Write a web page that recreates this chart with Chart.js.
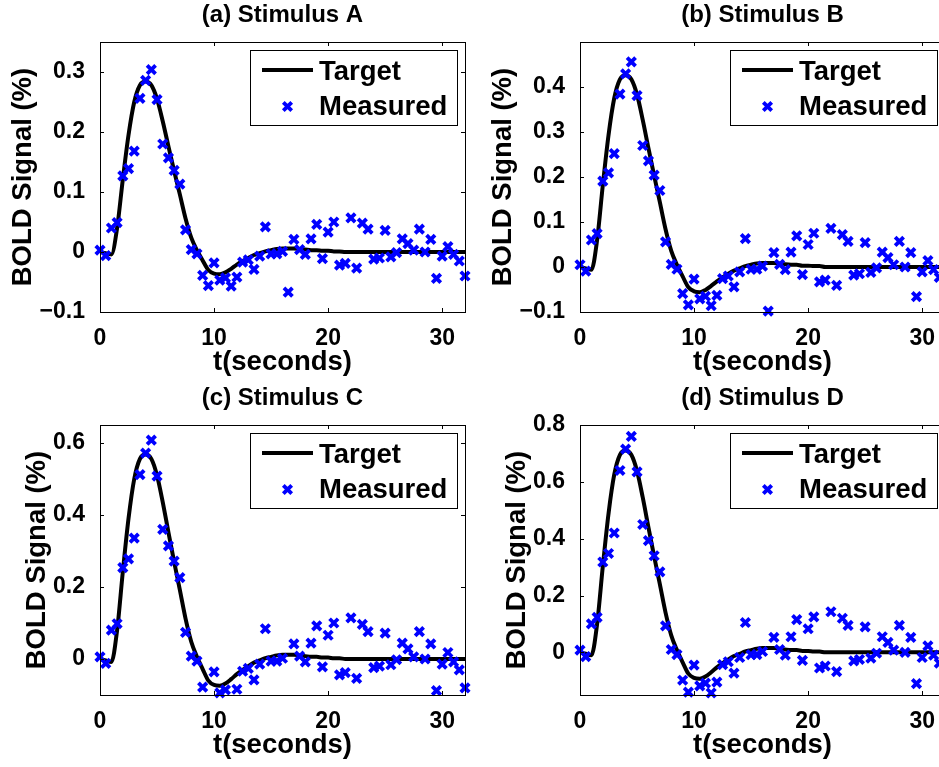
<!DOCTYPE html>
<html>
<head>
<meta charset="utf-8">
<script src="https://cdn.jsdelivr.net/npm/chart.js@4.4.1/dist/chart.umd.min.js"></script>
<style>
  html, body { margin: 0; padding: 0; background: #fff; }
  #wrap { position: relative; width: 939px; height: 767px; overflow: hidden; background: #fff; }
  canvas { position: absolute; }
</style>
</head>
<body>
<div id="wrap">
  <canvas id="chartA" width="480" height="383" style="left:0;top:0"></canvas>
  <canvas id="chartB" width="480" height="383" style="left:480px;top:0"></canvas>
  <canvas id="chartC" width="480" height="383" style="left:0;top:383px"></canvas>
  <canvas id="chartD" width="480" height="383" style="left:480px;top:383px"></canvas>
</div>
<script>
// time axis (seconds), sampled every 0.5 s
const time = [0, 0.5, 1, 1.5, 2, 2.5, 3, 3.5, 4, 4.5, 5, 5.5, 6, 6.5, 7, 7.5, 8, 8.5, 9, 9.5,
  10, 10.5, 11, 11.5, 12, 12.5, 13, 13.5, 14, 14.5, 15, 15.5, 16, 16.5, 17, 17.5, 18, 18.5, 19, 19.5,
  20, 20.5, 21, 21.5, 22, 22.5, 23, 23.5, 24, 24.5, 25, 25.5, 26, 26.5, 27, 27.5, 28, 28.5, 29, 29.5,
  30, 30.5, 31, 31.5, 32];

// target response curves
const targetA = [0, -0.002, -0.004, 0.040, 0.121, 0.195, 0.250, 0.278, 0.284, 0.278, 0.255, 0.218, 0.176, 0.135, 0.096, 0.056, 0.024, 0.003, -0.014, -0.030,
  -0.036, -0.037, -0.034, -0.028, -0.021, -0.015, -0.010, -0.005, -0.002, 0.001, 0.003, 0.005, 0.006, 0.006, 0.006, 0.005, 0.004, 0.003, 0.003, 0.002,
  0.002, 0.001, 0.001, 0, 0, 0, 0, 0, 0, 0, 0, 0, 0, 0, 0, 0, 0, 0, 0, 0, 0, 0, 0, 0, 0];
const targetB = [0, -0.003, -0.006, 0.060, 0.182, 0.293, 0.375, 0.417, 0.426, 0.417, 0.383, 0.327, 0.264, 0.203, 0.144, 0.084, 0.036, 0.005, -0.021, -0.045,
  -0.054, -0.056, -0.051, -0.042, -0.032, -0.023, -0.015, -0.008, -0.003, 0.002, 0.005, 0.008, 0.009, 0.009, 0.009, 0.008, 0.006, 0.005, 0.005, 0.003,
  0.003, 0.002, 0.002, 0, 0, 0, 0, 0, 0, 0, 0, 0, 0, 0, 0, 0, 0, 0, 0, 0, 0, 0, 0, 0, 0];
const targetC = [0, -0.004, -0.008, 0.080, 0.242, 0.390, 0.500, 0.556, 0.568, 0.556, 0.510, 0.436, 0.352, 0.270, 0.192, 0.112, 0.048, 0.006, -0.028, -0.060,
  -0.072, -0.074, -0.068, -0.056, -0.042, -0.030, -0.020, -0.010, -0.004, 0.002, 0.006, 0.010, 0.012, 0.012, 0.012, 0.010, 0.008, 0.006, 0.006, 0.004,
  0.004, 0.002, 0.002, 0, 0, 0, 0, 0, 0, 0, 0, 0, 0, 0, 0, 0, 0, 0, 0, 0, 0, 0, 0, 0, 0];
const targetD = [0, -0.005, -0.010, 0.100, 0.303, 0.488, 0.625, 0.695, 0.710, 0.695, 0.638, 0.545, 0.440, 0.338, 0.240, 0.140, 0.060, 0.008, -0.035, -0.075,
  -0.090, -0.093, -0.085, -0.070, -0.053, -0.038, -0.025, -0.013, -0.005, 0.003, 0.008, 0.013, 0.015, 0.015, 0.015, 0.013, 0.010, 0.008, 0.008, 0.005,
  0.005, 0.003, 0.003, 0, 0, 0, 0, 0, 0, 0, 0, 0, 0, 0, 0, 0, 0, 0, 0, 0, 0, 0, 0, 0, 0];

// measured samples
const measuredA = [0.003, -0.006, 0.040, 0.049, 0.127, 0.139, 0.168, 0.256, 0.286, 0.304, 0.254, 0.180, 0.157, 0.136, 0.113, 0.037, 0.004, -0.003, -0.039, -0.056,
  -0.018, -0.047, -0.043, -0.057, -0.042, -0.017, -0.013, -0.029, -0.007, 0.042, -0.003, -0.003, 0.001, -0.067, 0.021, 0.004, -0.004, 0.022, 0.046, -0.011,
  0.033, 0.050, -0.022, -0.019, 0.057, -0.027, 0.048, 0.038, -0.012, -0.010, 0.036, -0.008, -0.001, 0.022, 0.014, 0.003, 0.038, 0.000, 0.021, -0.044,
  -0.007, 0.009, -0.004, -0.015, -0.040];
const measuredB = [0.005, -0.009, 0.060, 0.074, 0.191, 0.209, 0.252, 0.384, 0.429, 0.456, 0.381, 0.270, 0.236, 0.204, 0.170, 0.056, 0.006, -0.005, -0.059, -0.084,
  -0.027, -0.071, -0.065, -0.086, -0.063, -0.026, -0.020, -0.044, -0.011, 0.063, -0.005, -0.005, 0.002, -0.098, 0.032, 0.006, -0.006, 0.033, 0.069, -0.017,
  0.050, 0.075, -0.033, -0.029, 0.086, -0.041, 0.072, 0.057, -0.018, -0.015, 0.054, -0.012, -0.002, 0.033, 0.021, 0.005, 0.057, 0.000, 0.032, -0.066,
  -0.011, 0.014, -0.006, -0.023, -0.060];
const measuredC = [0.006, -0.012, 0.080, 0.098, 0.254, 0.278, 0.336, 0.512, 0.572, 0.608, 0.508, 0.360, 0.314, 0.272, 0.226, 0.074, 0.008, -0.006, -0.078, -0.112,
  -0.036, -0.094, -0.086, -0.114, -0.084, -0.034, -0.026, -0.058, -0.014, 0.084, -0.006, -0.006, 0.002, -0.134, 0.042, 0.008, -0.008, 0.044, 0.092, -0.022,
  0.066, 0.100, -0.044, -0.038, 0.114, -0.054, 0.096, 0.076, -0.024, -0.020, 0.072, -0.016, -0.002, 0.044, 0.028, 0.006, 0.076, 0.000, 0.042, -0.088,
  -0.014, 0.018, -0.008, -0.030, -0.080];
const measuredD = [0.008, -0.015, 0.100, 0.123, 0.318, 0.348, 0.420, 0.640, 0.715, 0.760, 0.635, 0.450, 0.393, 0.340, 0.283, 0.093, 0.010, -0.008, -0.098, -0.140,
  -0.045, -0.118, -0.108, -0.143, -0.105, -0.043, -0.033, -0.073, -0.018, 0.105, -0.008, -0.008, 0.003, -0.168, 0.053, 0.010, -0.010, 0.055, 0.115, -0.028,
  0.083, 0.125, -0.055, -0.048, 0.143, -0.068, 0.120, 0.095, -0.030, -0.025, 0.090, -0.020, -0.003, 0.055, 0.035, 0.008, 0.095, 0.000, 0.053, -0.110,
  -0.018, 0.023, -0.010, -0.038, -0.100];

// tick labels
const xTicks = [0, 10, 20, 30];
const yTicksA = [-0.1, 0, 0.1, 0.2, 0.3];
const yTicksB = [-0.1, 0, 0.1, 0.2, 0.3, 0.4];
const yTicksC = [0, 0.2, 0.4, 0.6];
const yTicksD = [0, 0.2, 0.4, 0.6, 0.8];

const FONT = '"Liberation Sans", Arial, Helvetica, sans-serif';
Chart.defaults.font.family = FONT;
Chart.defaults.color = '#000';

// box around the plot with inward ticks on all four sides, like matlab
const axesBox = {
  id: 'axesBox',
  afterDatasetsDraw(chart) {
    const { ctx, chartArea: a, scales: { x, y } } = chart;
    ctx.save();
    ctx.strokeStyle = '#000';
    ctx.lineWidth = 1;
    ctx.strokeRect(a.left + 0.5, a.top + 0.5, a.width, a.height);
    ctx.beginPath();
    x.ticks.forEach((t) => {
      const px = Math.round(x.getPixelForValue(t.value)) + 0.5;
      ctx.moveTo(px, a.bottom); ctx.lineTo(px, a.bottom - 4);
      ctx.moveTo(px, a.top); ctx.lineTo(px, a.top + 4);
    });
    y.ticks.forEach((t) => {
      const py = Math.round(y.getPixelForValue(t.value)) + 0.5;
      ctx.moveTo(a.left, py); ctx.lineTo(a.left + 4, py);
      ctx.moveTo(a.right, py); ctx.lineTo(a.right - 4, py);
    });
    ctx.stroke();
    ctx.restore();
  }
};

// legend box in the upper right corner of the plot
const legendBox = {
  id: 'legendBox',
  afterDraw(chart) {
    const { ctx, chartArea: a } = chart;
    const ds = chart.data.datasets;
    const x0 = a.right - 215, y0 = a.top + 8;
    ctx.save();
    ctx.fillStyle = '#fff';
    ctx.fillRect(x0, y0, 207, 75);
    ctx.strokeStyle = '#000';
    ctx.lineWidth = 1;
    ctx.strokeRect(x0 + 0.5, y0 + 0.5, 207, 75);
    // line sample
    ctx.lineWidth = 4;
    ctx.beginPath();
    ctx.moveTo(x0 + 12, y0 + 20);
    ctx.lineTo(x0 + 63, y0 + 20);
    ctx.stroke();
    // marker sample
    const mx = x0 + 37.5, my = y0 + 56.5, r = 4.2;
    ctx.strokeStyle = '#0000ff';
    ctx.lineWidth = 3.8;
    ctx.beginPath();
    ctx.moveTo(mx - r, my - r); ctx.lineTo(mx + r, my + r);
    ctx.moveTo(mx - r, my + r); ctx.lineTo(mx + r, my - r);
    ctx.stroke();
    ctx.fillStyle = '#000';
    ctx.font = 'bold 27.5px ' + FONT;
    ctx.textBaseline = 'alphabetic';
    ctx.fillText(ds[0].label, x0 + 69, y0 + 30);
    ctx.fillText(ds[1].label, x0 + 69, y0 + 65);
    ctx.restore();
  }
};

const panels = [
  { id: 'chartA', title: '(a) Stimulus A', target: targetA, measured: measuredA, yMin: -0.1, yMax: 0.35, yTicks: yTicksA, yTitlePad: 6.5 },
  { id: 'chartB', title: '(b) Stimulus B', target: targetB, measured: measuredB, yMin: -0.1, yMax: 0.5, yTicks: yTicksB, yTitlePad: 6.5 },
  { id: 'chartC', title: '(c) Stimulus C', target: targetC, measured: measuredC, yMin: -0.1, yMax: 0.65, yTicks: yTicksC, yTitlePad: 20.5 },
  { id: 'chartD', title: '(d) Stimulus D', target: targetD, measured: measuredD, yMin: -0.15, yMax: 0.8, yTicks: yTicksD, yTitlePad: 20.5 }
];

panels.forEach((p) => {
  new Chart(document.getElementById(p.id), {
    type: 'scatter',
    data: {
      datasets: [
        {
          label: 'Target',
          data: time.map((t, i) => ({ x: t, y: p.target[i] })),
          showLine: true,
          borderColor: '#000',
          backgroundColor: '#000',
          borderWidth: 4,
          borderJoinStyle: 'round',
          pointRadius: 0,
          tension: 0.4,
          cubicInterpolationMode: 'monotone',
          order: 1
        },
        {
          label: 'Measured',
          data: time.map((t, i) => ({ x: t, y: p.measured[i] })),
          showLine: false,
          pointStyle: 'crossRot',
          pointRadius: (ctx) => {
            const v = ctx.raw ? ctx.raw.y : 0;
            return (v < p.yMin || v > p.yMax) ? 0 : 6; // matlab drops markers outside the limits
          },
          borderColor: '#0000ff',
          backgroundColor: '#0000ff',
          pointBorderWidth: 3.8,
          clip: false,
          order: 0
        }
      ]
    },
    options: {
      responsive: false,
      animation: false,
      events: [],
      layout: { padding: { right: 15 } },
      plugins: {
        legend: { display: false },
        tooltip: { enabled: false },
        title: {
          display: true,
          text: p.title,
          fullSize: false,
          color: '#000',
          font: { size: 24, weight: 'bold' },
          padding: { top: 1, bottom: 12.2 }
        }
      },
      scales: {
        x: {
          type: 'linear',
          min: 0,
          max: 32,
          afterBuildTicks: (s) => { s.ticks = xTicks.map((v) => ({ value: v })); },
          afterFit: (s) => { s.height = 71; },
          grid: { display: false },
          border: { display: false },
          ticks: { padding: 5, font: { size: 23, weight: 'bold' }, maxRotation: 0 },
          title: { display: true, text: 't(seconds)', font: { size: 27.5, weight: 'bold' }, padding: { top: 0, bottom: 4 } }
        },
        y: {
          type: 'linear',
          min: p.yMin,
          max: p.yMax,
          afterBuildTicks: (s) => { s.ticks = p.yTicks.map((v) => ({ value: v })); },
          afterFit: (s) => { s.width = 100; },
          grid: { display: false },
          border: { display: false },
          ticks: {
            padding: 7,
            font: { size: 23, weight: 'bold' },
            callback: (v) => (v === 0 ? '0' : (v < 0 ? '\u2212' : '') + Math.abs(v))
          },
          title: { display: true, text: 'BOLD Signal (%)', font: { size: 27.5, weight: 'bold' }, padding: { top: p.yTitlePad, bottom: 0 } }
        }
      }
    },
    plugins: [axesBox, legendBox]
  });
});
</script>
</body>
</html>
